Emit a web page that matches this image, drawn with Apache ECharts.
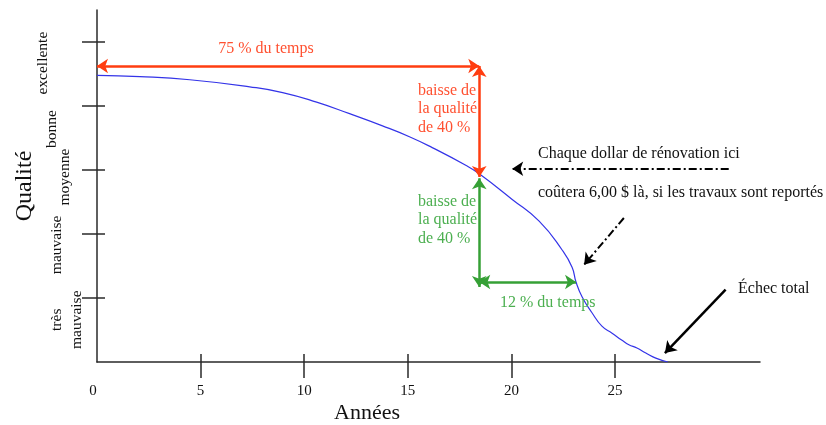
<!DOCTYPE html>
<html>
<head>
<meta charset="utf-8">
<script src="https://cdn.jsdelivr.net/npm/echarts@6/dist/echarts.min.js"></script>
<style>html,body{margin:0;padding:0;background:#fff}#c{width:826px;height:425px}</style>
</head>
<body>
<div id="c"></div>
<script>
// ---- data ----
const years   = [0, 2.07, 4.48, 7.37, 8.96, 10.6, 12.19, 13.78, 15.08, 16.18, 17.82, 18.45, 20.04, 21.34, 22.45, 22.93, 23.12, 23.41, 23.89, 24.37, 24.86, 25.34, 25.67, 26.06, 26.49, 26.97, 27.55];
const quality = [4.48, 4.46, 4.41, 4.30, 4.21, 4.06, 3.88, 3.69, 3.52, 3.35, 3.07, 2.94, 2.54, 2.20, 1.75, 1.48, 1.25, 1.02, 0.77, 0.56, 0.45, 0.34, 0.27, 0.22, 0.14, 0.06, 0];
const xTickValues  = [5, 10, 15, 20, 25];
const xLabelValues = [0, 5, 10, 15, 20, 25];
const yTickValues  = [1, 2, 3, 4, 5];
const qualityNames  = ['excellente', 'bonne', 'moyenne', 'mauvaise', 'très\nmauvaise'];
const qualityLevels = [4.67, 3.64, 2.89, 1.83, 0.66];

const redTimeArrow   = [[0, 4.625], [18.45, 4.625]];
const redDropArrow   = [[18.45, 4.625], [18.45, 2.89]];
const greenDropArrow = [[18.45, 2.87], [18.45, 1.17]];
const greenTimeArrow = [[18.45, 1.25], [23.12, 1.25]];
const noteArrowA     = [[30.49, 3.02], [20.04, 3.02]];
const noteArrowB     = [[25.43, 2.25], [23.51, 1.52]];
const failArrow      = [[30.34, 1.13], [27.41, 0.14]];

// ---- styles ----
const SERIF = '"Liberation Serif", "DejaVu Serif", serif';
const RED = '#ff3d10', RED_T = '#ff5030';
const GREEN = '#36a036', GREEN_T = '#4caf50';
const AXIS = '#2a2a2a';

const chart = echarts.init(document.getElementById('c'));

function arrowSeries(coords, color, width, both, dash) {
  return {
    type: 'lines', coordinateSystem: 'cartesian2d', silent: true, z: 5,
    symbol: both ? ['arrow', 'arrow'] : ['none', 'arrow'],
    symbolSize: 11,
    lineStyle: { color: color, width: width, type: dash || 'solid', opacity: 1, curveness: 0 },
    data: [{ coords: coords }]
  };
}

const axisCommonX = { type: 'value', min: 0, max: 32, gridIndex: 0, position: 'bottom', splitLine: { show: false } };
const axisCommonY = { type: 'value', min: 0, max: 5.5, gridIndex: 0, position: 'left', splitLine: { show: false } };

chart.setOption({
  animation: false,
  grid: { left: 97, right: 66, top: 10, bottom: 63, containLabel: false },
  xAxis: [
    Object.assign({}, axisCommonX, {
      axisLine: { show: true, lineStyle: { color: AXIS, width: 1.5 } },
      axisTick: { show: true, length: 16, customValues: xTickValues, lineStyle: { color: AXIS, width: 1.5 } },
      axisLabel: {
        show: true, customValues: xLabelValues, margin: 22,
        fontFamily: SERIF, fontSize: 15, color: '#111',
        formatter: v => v === 0 ? '{z|0}' : String(v),
        rich: { z: { fontFamily: SERIF, fontSize: 15, color: '#111', padding: [0, 8, 0, 0] } }
      }
    }),
    Object.assign({}, axisCommonX, {
      axisLine: { show: false },
      axisTick: { show: true, inside: true, length: 8, customValues: xTickValues, lineStyle: { color: AXIS, width: 1.5 } },
      axisLabel: { show: false }
    })
  ],
  yAxis: [
    Object.assign({}, axisCommonY, {
      axisLine: { show: true, lineStyle: { color: AXIS, width: 1.5 } },
      axisTick: { show: true, length: 15, customValues: yTickValues, lineStyle: { color: AXIS, width: 1.5 } },
      axisLabel: { show: false }
    }),
    Object.assign({}, axisCommonY, {
      axisLine: { show: false },
      axisTick: { show: true, inside: true, length: 8, customValues: yTickValues, lineStyle: { color: AXIS, width: 1.5 } },
      axisLabel: { show: false }
    })
  ],
  series: [
    {
      type: 'line', xAxisIndex: 0, yAxisIndex: 0, smooth: 0.5, showSymbol: false, z: 3,
      lineStyle: { color: '#3434e8', width: 1.2 },
      data: years.map((x, i) => [x, quality[i]])
    },
    arrowSeries(redTimeArrow, RED, 2.5, true),
    arrowSeries(redDropArrow, RED, 2.5, true),
    arrowSeries(greenDropArrow, GREEN, 2.5, true),
    arrowSeries(greenTimeArrow, GREEN, 2.5, true),
    arrowSeries(noteArrowA, '#000', 2, false, [8, 3, 2, 3]),
    arrowSeries(noteArrowB, '#000', 2, false, [8, 3, 2, 3]),
    arrowSeries(failArrow, '#000', 2.5, false)
  ]
});

// ---- texts ----
const txt = (text, x, y, opts) => ({
  type: 'text', x: x, y: y, rotation: (opts && opts.rotation) || 0, z: 10, silent: true,
  style: Object.assign({
    text: text, font: '16px ' + SERIF, fill: '#111',
    textAlign: 'left', textVerticalAlign: 'middle', lineHeight: 18.5
  }, opts && opts.style)
});

const graphics = [
  txt('75 % du temps', 266, 49, { style: { fill: RED_T, textAlign: 'center' } }),
  txt('baisse de\nla qualité\nde 40 %', 418, 109, { style: { fill: RED_T } }),
  txt('baisse de\nla qualité\nde 40 %', 418, 220, { style: { fill: GREEN_T } }),
  txt('12 % du temps', 500, 303, { style: { fill: GREEN_T } }),
  txt('Chaque dollar de rénovation ici', 538, 154),
  txt('coûtera 6,00 $ là, si les travaux sont reportés', 538, 193),
  txt('Échec total', 738, 289),
  txt('Années', 367, 413, { style: { font: '22px ' + SERIF, textAlign: 'center' } }),
  txt('Qualité', 25, 186, { rotation: Math.PI / 2, style: { font: '24px ' + SERIF, textAlign: 'center' } })
];
const qualityX = [43, 52, 65, 57, 67];
qualityNames.forEach((name, i) => {
  const py = chart.convertToPixel({ yAxisIndex: 0 }, qualityLevels[i]);
  graphics.push(txt(name, qualityX[i], py, { rotation: Math.PI / 2, style: { font: '15.5px ' + SERIF, textAlign: 'center', lineHeight: 20 } }));
});
chart.setOption({ graphic: graphics });
</script>
</body>
</html>
